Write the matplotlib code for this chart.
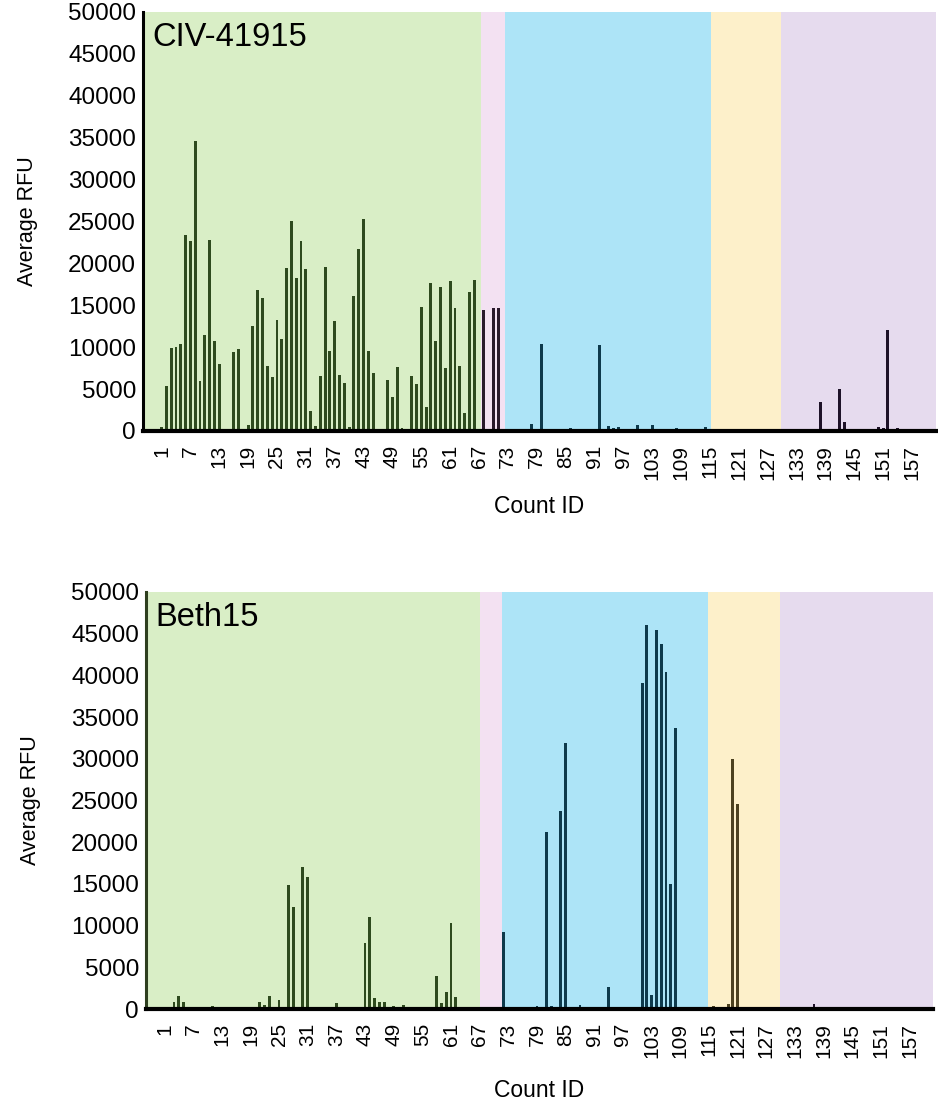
import matplotlib
matplotlib.use("Agg")
import matplotlib.pyplot as plt
import numpy as np

plt.rcParams["font.family"] = ["Liberation Sans", "DejaVu Sans"]

# region shading (in Count ID units) and colours
top_edges = [-2.85, 67.5, 72.5, 115.2, 129.8, 162.0]
bottom_edges = [-2.85, 67.1, 71.7, 114.9, 129.8, 161.9]
region_bg = ["#d9eec6", "#f3e1f2", "#ade4f7", "#fdf0ca", "#e6dbee"]
region_bar = ["#2e4a1e", "#2a1a2c", "#0e3a4c", "#4d4220", "#1e1228"]

tick_ids = list(range(1, 158, 6))

# CIV-41915
civ_ids = [1, 2, 3, 4, 5, 6, 7, 8, 9, 10, 11, 12, 13, 16, 17, 19, 20, 21, 22, 23,
           24, 25, 26, 27, 28, 29, 30, 31, 32, 33, 34, 35, 36, 37, 38, 39, 40, 41,
           42, 43, 44, 45, 48, 49, 50, 51, 53, 54, 55, 56, 57, 58, 59, 60, 61, 62,
           63, 64, 65, 66,
           68, 70, 71,
           78, 80, 86, 92, 94, 95, 96, 97, 100, 103, 104, 105, 108, 111, 114,
           118, 123, 124, 125, 126,
           134, 138, 142, 143, 150, 151, 152, 153, 154, 155]
civ_rfu = [500, 5400, 9900, 10000, 10400, 23400, 22700, 34600, 6000, 11500, 22800,
           10700, 8000, 9400, 9800, 700, 12500, 16800, 15900, 7800, 6400, 13300,
           11000, 19400, 25000, 18300, 22700, 19300, 2400, 600, 6600, 19600, 9600,
           13100, 6700, 5700, 500, 16100, 21700, 25300, 9500, 6900, 6100, 4000,
           7600, 400, 6600, 5600, 14800, 2900, 17700, 10700, 17200, 7500, 17900,
           14700, 7800, 2100, 16600, 18000,
           14450, 14650, 14650,
           800, 10350, 400, 10270, 600, 320, 520, 200, 720, 680, 200, 200, 320, 200, 520,
           150, 200, 150, 200, 150,
           150, 3500, 4980, 1070, 480, 320, 12100, 200, 320, 200]

# Beth15
beth_ids = [3, 4, 5, 11, 17, 18, 21, 22, 23, 25, 26, 27, 28, 29, 30, 31, 33, 37, 39,
            41, 43, 44, 45, 46, 47, 49, 51, 52, 53, 54, 55, 58, 59, 60, 61, 62, 63,
            69,
            72, 79, 81, 82, 84, 85, 87, 88, 93, 94, 96, 99, 101, 102, 103, 104, 105,
            106, 107, 108, 112,
            116, 119, 120, 121,
            135, 137, 140, 142]
beth_rfu = [800, 1590, 800, 400, 280, 200, 800, 520, 1590, 1110, 200, 14850, 12260,
            100, 17000, 15800, 200, 760, 150, 150, 7960, 11020, 1310, 800, 800, 400,
            520, 150, 150, 150, 150, 3980, 680, 2070, 10270, 1390, 100,
            280,
            9230, 400, 21170, 360, 23800, 31840, 200, 480, 150, 2670, 150, 200,
            39120, 46050, 1670, 45490, 43780, 40400, 14930, 33710, 100,
            400, 600, 29930, 24560,
            240, 600, 100, 280]


def draw_panel(ax, ids, vals, edges, title, left_col):
    for k in range(len(region_bg)):
        ax.axvspan(edges[k], edges[k + 1], color=region_bg[k], lw=0, zorder=0)
    cols = []
    for c in ids:
        k = int(np.searchsorted(edges, c)) - 1
        cols.append(region_bar[min(max(k, 0), len(region_bar) - 1)])
    ax.bar(ids, vals, width=0.6, color=cols, zorder=2)
    ax.set_xlim(edges[0], edges[-1])
    ax.set_ylim(0, 50000)
    ax.set_yticks(np.arange(0, 50001, 5000))
    ax.set_xticks(tick_ids)
    ax.set_xticklabels([str(t) for t in tick_ids], rotation=90)
    ax.tick_params(axis="both", length=0)
    ax.tick_params(axis="x", pad=10, labelsize=15)
    ax.tick_params(axis="y", pad=5, labelsize=17.5)
    for s in ["top", "right"]:
        ax.spines[s].set_visible(False)
    ax.spines["left"].set_linewidth(2.2)
    ax.spines["left"].set_color(left_col)
    ax.spines["bottom"].set_linewidth(3)
    ax.spines["bottom"].set_zorder(3)
    ax.set_ylabel("Average RFU", fontsize=15.5, labelpad=22)
    ax.text(0.012, 0.975, title, transform=ax.transAxes, fontsize=23.5,
            ha="left", va="top", zorder=4)


fig = plt.figure(figsize=(9.38, 11.05), dpi=100)
ax1 = fig.add_axes([143 / 938, 1 - 431 / 1105, 793 / 938, 419 / 1105])
ax2 = fig.add_axes([146 / 938, 1 - 1009 / 1105, 787 / 938, 417 / 1105])

draw_panel(ax1, civ_ids, civ_rfu, top_edges, "CIV-41915", "black")
draw_panel(ax2, beth_ids, beth_rfu, bottom_edges, "Beth15", "#2e3f1f")
ax1.set_xlabel("Count ID", fontsize=16.5, labelpad=11)
ax2.set_xlabel("Count ID", fontsize=16.5, labelpad=15)

fig.savefig("out.png", dpi=100)
